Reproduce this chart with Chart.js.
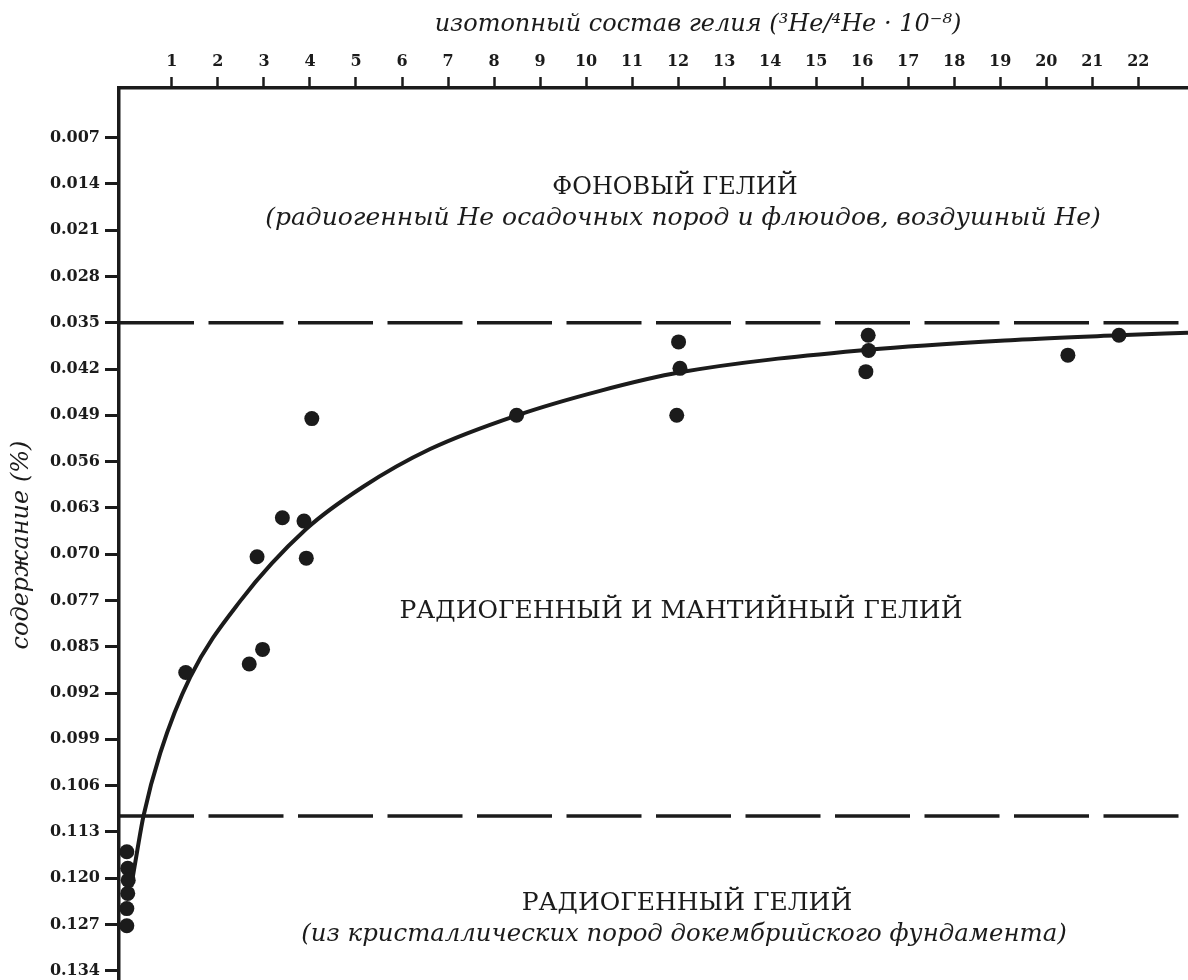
<!DOCTYPE html>
<html lang="ru">
<head>
<meta charset="utf-8">
<title>Изотопный состав и содержание гелия</title>
<script src="https://cdn.jsdelivr.net/npm/chart.js@4.4.1/dist/chart.umd.min.js"></script>
<style>
  html, body { margin: 0; padding: 0; background: #ffffff; }
  #wrap { position: relative; width: 1188px; height: 980px; }
</style>
</head>
<body>
<div id="wrap"><canvas id="chart"></canvas></div>
<script>
// Top axis: helium isotope ratio, ³He/⁴He · 10⁻⁸
const xTickValues = [1, 2, 3, 4, 5, 6, 7, 8, 9, 10, 11, 12, 13, 14, 15, 16, 17, 18, 19, 20, 21, 22];

// Left axis: helium content, %, evenly spaced graduations
const yTickValues = [0.007, 0.014, 0.021, 0.028, 0.035, 0.042, 0.049, 0.056, 0.063, 0.070,
                     0.077, 0.084, 0.091, 0.098, 0.105, 0.112, 0.119, 0.126, 0.133];
const yTickLabels = ['0.007', '0.014', '0.021', '0.028', '0.035', '0.042', '0.049', '0.056', '0.063', '0.070',
                     '0.077', '0.085', '0.092', '0.099', '0.106', '0.113', '0.120', '0.127', '0.134'];

// Measured samples
const sampleRatio = [0.02, 0.04, 0.05, 0.04, 0.02, 0.02,
                     1.30, 2.68, 2.97, 2.85, 3.40, 3.87, 3.92, 4.04,
                     8.49, 12.01, 12.04, 11.97, 16.13, 16.14, 16.08, 20.47, 21.58];
const sampleContent = [0.1150, 0.1175, 0.1193, 0.1213, 0.1236, 0.1262,
                       0.0879, 0.0866, 0.0844, 0.0704, 0.0645, 0.0650, 0.0706, 0.0495,
                       0.0490, 0.0379, 0.0419, 0.0490, 0.0369, 0.0392, 0.0424, 0.0399, 0.0369];

// Trend curve through the samples
const trendRatio = [0.115, 0.245, 0.382, 0.746, 1.397, 2.483, 3.917, 5.155, 6.611, 8.501,
                    10.304, 12.042, 16.127, 19.32, 21.58, 23.08];
const trendContent = [0.1203, 0.1149, 0.1096, 0.1001, 0.0886, 0.0771, 0.0662, 0.0598, 0.0541, 0.0490,
                      0.0453, 0.0425, 0.0391, 0.0376, 0.0369, 0.0365];

// Zone boundaries (content, %)
const boundaries = [0.035, 0.1096];

const X_MIN = -0.15, X_MAX = 23.08;
const Y_MIN = -0.0005, Y_MAX = 0.1344;
const INK = '#1b1b1b';

const pairs = (xs, ys) => xs.map((x, i) => ({ x: x, y: ys[i] }));

const datasets = boundaries.map(b => ({
  type: 'line',
  data: [{ x: X_MIN, y: b }, { x: X_MAX, y: b }],
  borderColor: INK,
  borderWidth: 3.5,
  borderDash: [75, 14.5],
  pointRadius: 0,
  fill: false,
  order: 3
}));
datasets.push({
  type: 'line',
  data: pairs(trendRatio, trendContent),
  borderColor: INK,
  borderWidth: 4,
  cubicInterpolationMode: 'monotone',
  pointRadius: 0,
  fill: false,
  order: 2
});
datasets.push({
  type: 'scatter',
  data: pairs(sampleRatio, sampleContent),
  backgroundColor: INK,
  borderWidth: 0,
  pointRadius: 7.5,
  pointHoverRadius: 7.5,
  clip: false,
  order: 1
});

// Axis titles and zone captions
const captions = {
  id: 'captions',
  afterDraw(chart) {
    const ctx = chart.ctx;
    const items = [
      { t: 'изотопный состав гелия (³He/⁴He · 10⁻⁸)', f: 'italic 24px "DejaVu Serif"', x: 698, y: 25 },
      { t: 'ФОНОВЫЙ ГЕЛИЙ', f: '24px "DejaVu Serif"', x: 675, y: 188 },
      { t: '(радиогенный Не осадочных пород и флюидов, воздушный Не)', f: 'italic 25px "DejaVu Serif"', x: 683, y: 218 },
      { t: 'РАДИОГЕННЫЙ И МАНТИЙНЫЙ ГЕЛИЙ', f: '25px "DejaVu Serif"', x: 681, y: 611 },
      { t: 'РАДИОГЕННЫЙ ГЕЛИЙ', f: '25px "DejaVu Serif"', x: 687, y: 903 },
      { t: '(из кристаллических пород докембрийского фундамента)', f: 'italic 24.4px "DejaVu Serif"', x: 684, y: 935 }
    ];
    ctx.save();
    ctx.fillStyle = INK;
    ctx.textAlign = 'center';
    ctx.textBaseline = 'middle';
    items.forEach(it => {
      ctx.font = it.f;
      ctx.fillText(it.t, it.x, it.y);
    });
    // vertical title of the content axis
    ctx.translate(22, 545);
    ctx.rotate(-Math.PI / 2);
    ctx.font = 'italic 24px "DejaVu Serif"';
    ctx.fillText('содержание (%)', 0, 0);
    ctx.restore();
  }
};

const noEdgePadding = s => { s.paddingLeft = 0; s.paddingRight = 0; s.paddingTop = 0; s.paddingBottom = 0; };

new Chart(document.getElementById('chart'), {
  data: { datasets: datasets },
  options: {
    responsive: true,
    maintainAspectRatio: false,
    animation: false,
    layout: { padding: 0, autoPadding: false },
    plugins: { legend: { display: false }, tooltip: { enabled: false }, title: { display: false } },
    scales: {
      x: {
        type: 'linear',
        position: 'top',
        min: X_MIN,
        max: X_MAX,
        afterBuildTicks: s => { s.ticks = xTickValues.map(v => ({ value: v })); },
        afterFit: s => { s.height = 88; noEdgePadding(s); },
        ticks: {
          color: INK,
          font: { family: '"DejaVu Serif"', weight: 'bold', size: 16 },
          padding: 6,
          maxRotation: 0,
          autoSkip: false,
          callback: v => String(v)
        },
        grid: { drawOnChartArea: false, drawTicks: true, tickLength: 11, tickWidth: 2.5, tickColor: INK },
        border: { display: true, color: INK, width: 3.5 }
      },
      y: {
        type: 'linear',
        position: 'left',
        reverse: true,
        min: Y_MIN,
        max: Y_MAX,
        afterBuildTicks: s => { s.ticks = yTickValues.map(v => ({ value: v })); },
        afterFit: s => { s.width = 119; noEdgePadding(s); },
        ticks: {
          color: INK,
          font: { family: '"DejaVu Serif"', weight: 'bold', size: 16 },
          padding: 5,
          autoSkip: false,
          callback: (v, i) => yTickLabels[i]
        },
        grid: { drawOnChartArea: false, drawTicks: true, tickLength: 14, tickWidth: 3, tickColor: INK },
        border: { display: true, color: INK, width: 3.5 }
      }
    }
  },
  plugins: [captions]
});
</script>
</body>
</html>
